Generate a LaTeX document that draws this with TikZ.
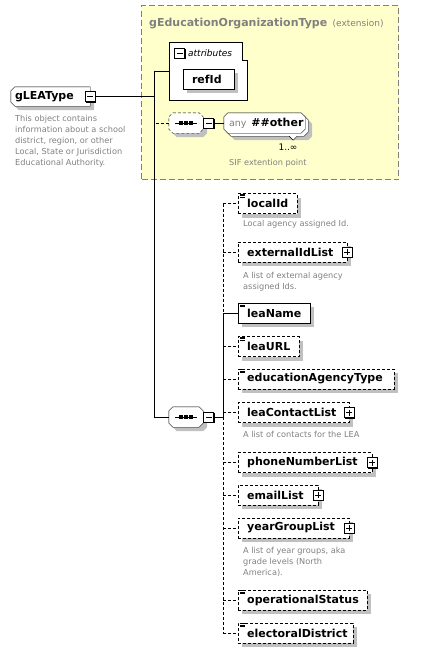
\documentclass[tikz,border=0pt]{standalone}
\usepackage{fontspec}
\setmainfont{DejaVu Sans}
\usetikzlibrary{shadows}
\definecolor{docgray}{RGB}{128,128,128}
\definecolor{extyellow}{RGB}{255,255,204}
\definecolor{shadegray}{RGB}{192,192,192}
\newcommand{\namefont}{\fontsize{11}{13}\selectfont\bfseries}
\newcommand{\docfont}{\fontsize{8.2}{11}\selectfont}
\newcommand{\tagfont}{\fontsize{9}{11}\selectfont}
% outline with cut corners round a named node
\newcommand{\chamfer}[1]{([xshift=4pt]#1.north west) -- ([xshift=-4pt]#1.north east)
  -- ([yshift=-4pt]#1.north east) -- ([yshift=4pt]#1.south east)
  -- ([xshift=-4pt]#1.south east) -- ([xshift=4pt]#1.south west)
  -- ([yshift=4pt]#1.south west) -- ([yshift=-4pt]#1.north west) -- cycle}
\newcommand{\leftchamfer}[1]{([xshift=4pt]#1.north west) -- (#1.north east)
  -- (#1.south east) -- ([xshift=4pt]#1.south west)
  -- ([yshift=4pt]#1.south west) -- ([yshift=-4pt]#1.north west) -- cycle}
\pgfdeclarelayer{back}
\pgfdeclarelayer{boxes}
\pgfsetlayers{back,boxes,main}
\hyphenpenalty=10000
\begin{document}
\begin{tikzpicture}[
  x=1pt, y=-1pt,
  every node/.style={font=\namefont},
  shade/.style={general shadow={fill=shadegray, shadow xshift=4pt, shadow yshift=-4pt}},
  shadepath/.style={fill=shadegray, transform canvas={shift={(4pt,-4pt)}}},
  elem/.style={rectangle, draw=black, fill=white, dash pattern=on 3pt off 2pt,
               anchor=west, minimum height=20pt, inner xsep=9pt, inner ysep=0pt,
               align=left, shade},
  doc/.style={anchor=north west, inner sep=0pt, align=left, text=docgray, font=\docfont},
  minus/.style={rectangle, draw=black, fill=white, line width=0.8pt,
                minimum size=10pt, inner sep=0pt,
                general shadow={fill=black, shadow xshift=1pt, shadow yshift=-1pt},
                path picture={\draw[line width=0.8pt]
                  ([xshift=2pt]path picture bounding box.west) --
                  ([xshift=-2pt]path picture bounding box.east);}},
  plus/.style={minus,
               path picture={\draw[line width=0.8pt]
                  ([xshift=2pt]path picture bounding box.west) --
                  ([xshift=-2pt]path picture bounding box.east)
                  ([yshift=-2pt]path picture bounding box.north) --
                  ([yshift=2pt]path picture bounding box.south);}},
  seq/.style={rectangle, minimum width=34pt, minimum height=20pt, inner sep=0pt},
  anybox/.style={rectangle, minimum width=81pt, minimum height=20pt, inner sep=0pt}
]
  \useasboundingbox (0,0) rectangle (439,653);

  % Extension group
  \begin{pgfonlayer}{back}
    \node[draw=docgray, fill=extyellow, dash pattern=on 6pt off 3pt, line width=1pt,
          minimum width=257pt, minimum height=174pt, inner sep=0pt, anchor=north west]
      (extBox) at (141,5) {};
  \end{pgfonlayer}
  \node[anchor=base west, text=docgray, inner sep=0pt] (extTitle) at (149,26)
    {gEducationOrganizationType};
  \node[anchor=base west, text=docgray, inner sep=0pt, font=\tagfont]
    (extTag) at ([xshift=5pt]extTitle.base east) {(extension)};

  % Attributes
  \draw[fill=white] (169,42) -- (242,42) -- (242,60) -- (247,60) -- (247,100)
    -- (169,100) -- cycle;
  \coordinate (attrs) at (169,71);
  \node[minus] (attrsMinus) at (179.5,53) {};
  \node[anchor=west, inner sep=0pt, font=\tagfont\itshape] (attrsLabel) at (188,53)
    {attributes};
  \node[elem, solid, anchor=center, minimum width=51pt, text width=33pt] (refId)
    at (208.5,79) {refId};

  % Extension point
  \node[seq] (extSeq) at (186,123) {};
  \node[minus, anchor=west] (extSeqMinus) at (extSeq.east) {};
  \node[anybox] (anyBack) at (267.5,126) {};
  \node[anybox, inner xsep=5pt, text width=71pt, align=left] (anyOther) at (264.5,123)
    {\mbox{\textcolor{docgray}{\mdseries\fontsize{9.5}{11}\selectfont any}\hspace{5pt}\#\#other}};
  \node[inner sep=0pt, font=\tagfont] (anyCount) at (288,147) {1..∞};
  \node[doc] (anyDoc) at (229,159) {SIF extention point};

  % Root element
  \node[rectangle, minimum width=79pt, minimum height=19pt, inner xsep=4pt,
        inner ysep=0pt, text width=71pt, align=left]
    (gLEAType) at (50.5,96.5) {gLEAType};
  \node[minus] (gLEATypeMinus) at (gLEAType.east) {};
  \node[doc] (gLEATypeDoc) at (15,115)
    {This object contains\\information about a school\\district, region, or other\\Local, State or Jurisdiction\\Educational Authority.};

  % Main sequence
  \node[seq] (mainSeq) at (186,417) {};
  \node[minus, anchor=west] (mainSeqMinus) at (mainSeq.east) {};

  % Cut-corner outlines, under the texts
  \begin{pgfonlayer}{boxes}
    \fill[shadepath] \leftchamfer{gLEAType};
    \draw[fill=white] \leftchamfer{gLEAType};
    \foreach \s in {extSeq, mainSeq} {
      \fill[shadepath] \chamfer{\s};
    }
    \draw[fill=white, dash pattern=on 3pt off 2pt] \chamfer{extSeq};
    \draw[fill=white] \chamfer{mainSeq};
    \fill[shadepath] \chamfer{anyBack};
    \draw[fill=white] \chamfer{anyBack};
    \draw[fill=white] ([xshift=-19pt]anyBack.south east) -- ++(4,4) -- ++(4,-4);
    \draw[fill=white] \chamfer{anyOther};
  \end{pgfonlayer}

  % Child elements
  \node[elem, minimum width=59pt, text width=41pt] (localId) at (238,203.5) {localId};
  \node[doc] (localIdDoc) at (243,220) {Local agency assigned Id.};

  \node[elem, minimum width=109pt, text width=91pt] (externalIdList) at (238,252)
    {externalIdList};
  \node[plus] (externalIdListPlus) at (externalIdList.east) {};
  \node[doc] (externalIdListDoc) at (243,272) {A list of external agency\\assigned Ids.};

  \node[elem, solid, minimum width=72pt, text width=54pt] (leaName) at (238,313) {leaName};

  \node[elem, minimum width=61pt, text width=43pt] (leaURL) at (238,346.5) {leaURL};

  \node[elem, minimum width=156pt, text width=138pt] (educationAgencyType) at (238,379)
    {educationAgencyType};

  \node[elem, minimum width=111pt, text width=93pt] (leaContactList) at (238,412.5)
    {leaContactList};
  \node[plus] (leaContactListPlus) at (leaContactList.east) {};
  \node[doc] (leaContactListDoc) at (243,431) {A list of contacts for the LEA};

  \node[elem, minimum width=134pt, text width=116pt] (phoneNumberList) at (238,462.5)
    {phoneNumberList};
  \node[plus] (phoneNumberListPlus) at (phoneNumberList.east) {};

  \node[elem, minimum width=80pt, text width=62pt] (emailList) at (238,495) {emailList};
  \node[plus] (emailListPlus) at (emailList.east) {};

  \node[elem, minimum width=111pt, text width=93pt] (yearGroupList) at (238,528)
    {yearGroupList};
  \node[plus] (yearGroupListPlus) at (yearGroupList.east) {};
  \node[doc] (yearGroupListDoc) at (243,547)
    {A list of year groups, aka\\grade levels (North\\America).};

  \node[elem, minimum width=129pt, text width=111pt] (operationalStatus) at (238,600)
    {operationalStatus};

  \node[elem, minimum width=115pt, text width=97pt] (electoralDistrict) at (238,633)
    {electoralDistrict};

  % Sequence symbols and documentation marks
  \foreach \s in {extSeq, mainSeq} {
    \draw ([xshift=-11pt]\s.center) -- ([xshift=11pt]\s.center);
    \foreach \d in {-5,0,5}
      \fill ([shift={(\d,0)}]\s.center) +(-1.7,-1.7) rectangle +(1.7,1.7);
  }
  \foreach \e in {localId, leaName, leaURL, educationAgencyType, operationalStatus,
                  electoralDistrict}
    \foreach \k in {0.5,2,3.5}
      \draw[line width=0.6pt] ([shift={(2,\k)}]\e.north west) -- ++(5,0);

  % Connectors
  \coordinate (trunkTop) at (154,71);
  \coordinate (branch) at (223,417);
  \draw (attrs) -- (trunkTop) -- (trunkTop |- mainSeq.west) -- (mainSeq.west);
  \draw (gLEATypeMinus.east) -- (gLEATypeMinus.east -| trunkTop);
  \draw[dash pattern=on 3pt off 2pt] (extSeq.west) -- (extSeq.west -| trunkTop);
  \draw (extSeqMinus.east) -- (anyOther.west);
  \draw (mainSeqMinus.east) -- (branch);
  \draw[dash pattern=on 3pt off 2pt] (branch |- localId.west) -- (branch |- leaName.west);
  \draw (branch |- leaName.west) -- (branch);
  \draw[dash pattern=on 3pt off 2pt] (branch) -- (branch |- electoralDistrict.west);
  \draw (branch |- leaName.west) -- (leaName.west);
  \foreach \e in {localId, externalIdList, leaURL, educationAgencyType, leaContactList,
                  phoneNumberList, emailList, yearGroupList, operationalStatus,
                  electoralDistrict}
    \draw[dash pattern=on 3pt off 2pt] (branch |- \e.west) -- (\e.west);
\end{tikzpicture}
\end{document}
